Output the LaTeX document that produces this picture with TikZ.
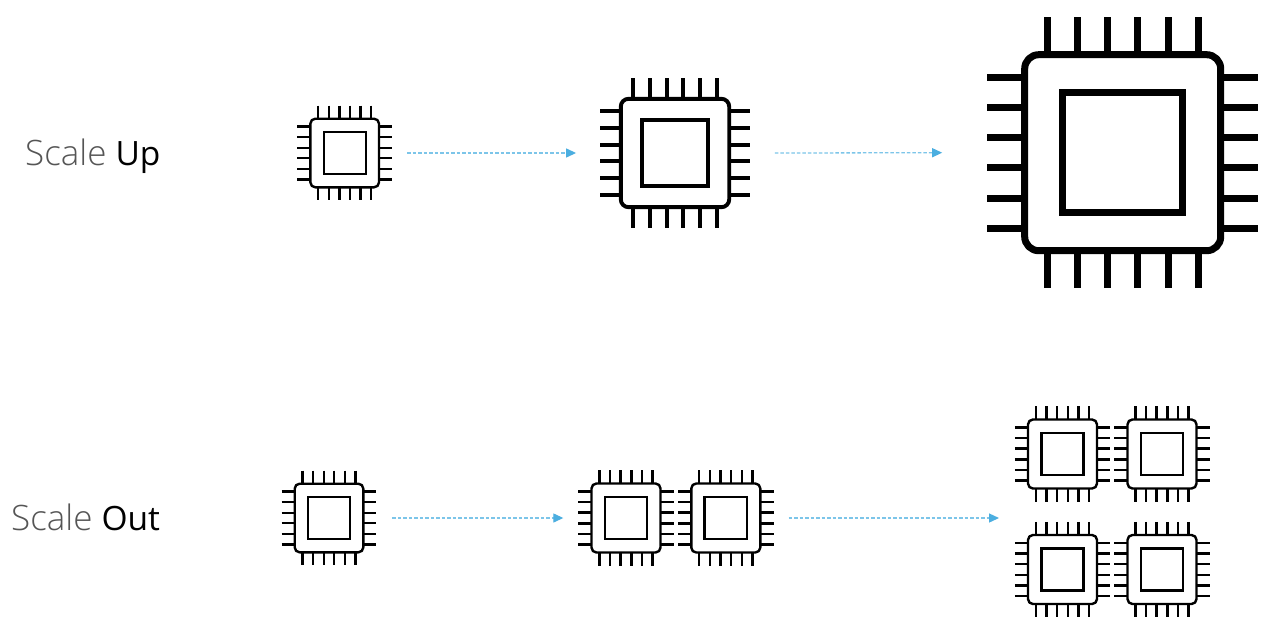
\documentclass[tikz,border=0pt]{standalone}
\usepackage{fontspec}
\setmainfont{Open Sans}
\newfontfamily\litefont{Open Sans Light}
\usetikzlibrary{arrows.meta}
\definecolor{flowline}{HTML}{7CC5E9}
\definecolor{flowhead}{HTML}{4BAEE0}
\definecolor{lite}{HTML}{555555}
\tikzset{
  x=1pt,y=-1pt,
  chipline/.style={draw=black,line cap=butt,line join=round},
  flow/.style={draw=flowline,line width=1.3pt,dash pattern=on 3.5pt off 2pt,
    -{Triangle[length=10pt,width=9pt,color=flowhead,fill=flowhead]}},
  title/.style={anchor=base west,inner sep=0pt},
  chipbox/.style={draw=none,fill=none,inner sep=0pt,outer sep=0pt}
}
\newcommand{\liteword}[1]{{\litefont\fontsize{35}{38}\selectfont\color{lite}#1}}
\newcommand{\strongword}[1]{{\fontsize{33.5}{38}\selectfont #1}}
\newcommand{\chipicon}[5]{% name, x, y, scale, line width
  \pgfmathsetmacro{\chs}{#4}
  \pgfmathsetmacro{\chw}{#5}
  \pgfmathsetmacro{\chb}{98*\chs}
  \pgfmathsetmacro{\chi}{60*\chs}
  \pgfmathsetmacro{\chp}{135.5*\chs}
  \pgfmathsetmacro{\chr}{14*\chs}
  \node[chipbox,minimum size={2*\chp pt}] (#1) at (#2,#3) {};
  \begin{scope}[shift={(#2,#3)}]
    \foreach \o in {-75.5,-45.3,-15.1,15.1,45.3,75.5}{
      \pgfmathsetmacro{\q}{\o*\chs}
      \draw[chipline,line width=\chw pt] (\q,-\chp) -- (\q,-\chb);
      \draw[chipline,line width=\chw pt] (\q,\chb) -- (\q,\chp);
      \draw[chipline,line width=\chw pt] (-\chp,\q) -- (-\chb,\q);
      \draw[chipline,line width=\chw pt] (\chb,\q) -- (\chp,\q);
    }
    \draw[chipline,line width=\chw pt,fill=white,rounded corners=\chr pt] (-\chb,-\chb) rectangle (\chb,\chb);
    \draw[chipline,line width=\chw pt,line join=miter] (-\chi,-\chi) rectangle (\chi,\chi);
  \end{scope}
}
\begin{document}
\begin{tikzpicture}
\useasboundingbox (0,0) rectangle (1278,638);
\fill[white] (0,0) rectangle (1278,638);
\node[title] (up) at (25,165) {\liteword{Scale}\hspace{9pt}\strongword{Up}};
\node[title] (out) at (11,530) {\liteword{Scale}\hspace{9pt}\strongword{Out}};
\chipicon{ua}{344.7}{153}{0.35}{2.4}
\chipicon{ub}{675}{153}{0.553}{3.9}
\chipicon{uc}{1122.7}{152.7}{1}{7}
\chipicon{oa}{329}{518}{0.35}{2.4}
\chipicon{ob}{626}{518}{0.352}{2.4}
\chipicon{oc}{725.8}{518}{0.352}{2.4}
\chipicon{qa}{1062.5}{454}{0.352}{2.4}
\chipicon{qb}{1162}{454}{0.352}{2.4}
\chipicon{qc}{1062.5}{569.5}{0.352}{2.4}
\chipicon{qd}{1162}{569.5}{0.352}{2.4}
\coordinate (qm) at (1014,518);
\draw[flow] ([xshift=15pt]ua.east) -- ([xshift=-24pt]ub.west);
\draw[flow] ([xshift=25pt]ub.east) -- ([xshift=-45pt]uc.west);
\draw[flow] ([xshift=16pt]oa.east) -- ([xshift=-15pt]ob.west);
\draw[flow] ([xshift=15pt]oc.east) -- ([xshift=-15pt]qm);
\end{tikzpicture}
\end{document}
